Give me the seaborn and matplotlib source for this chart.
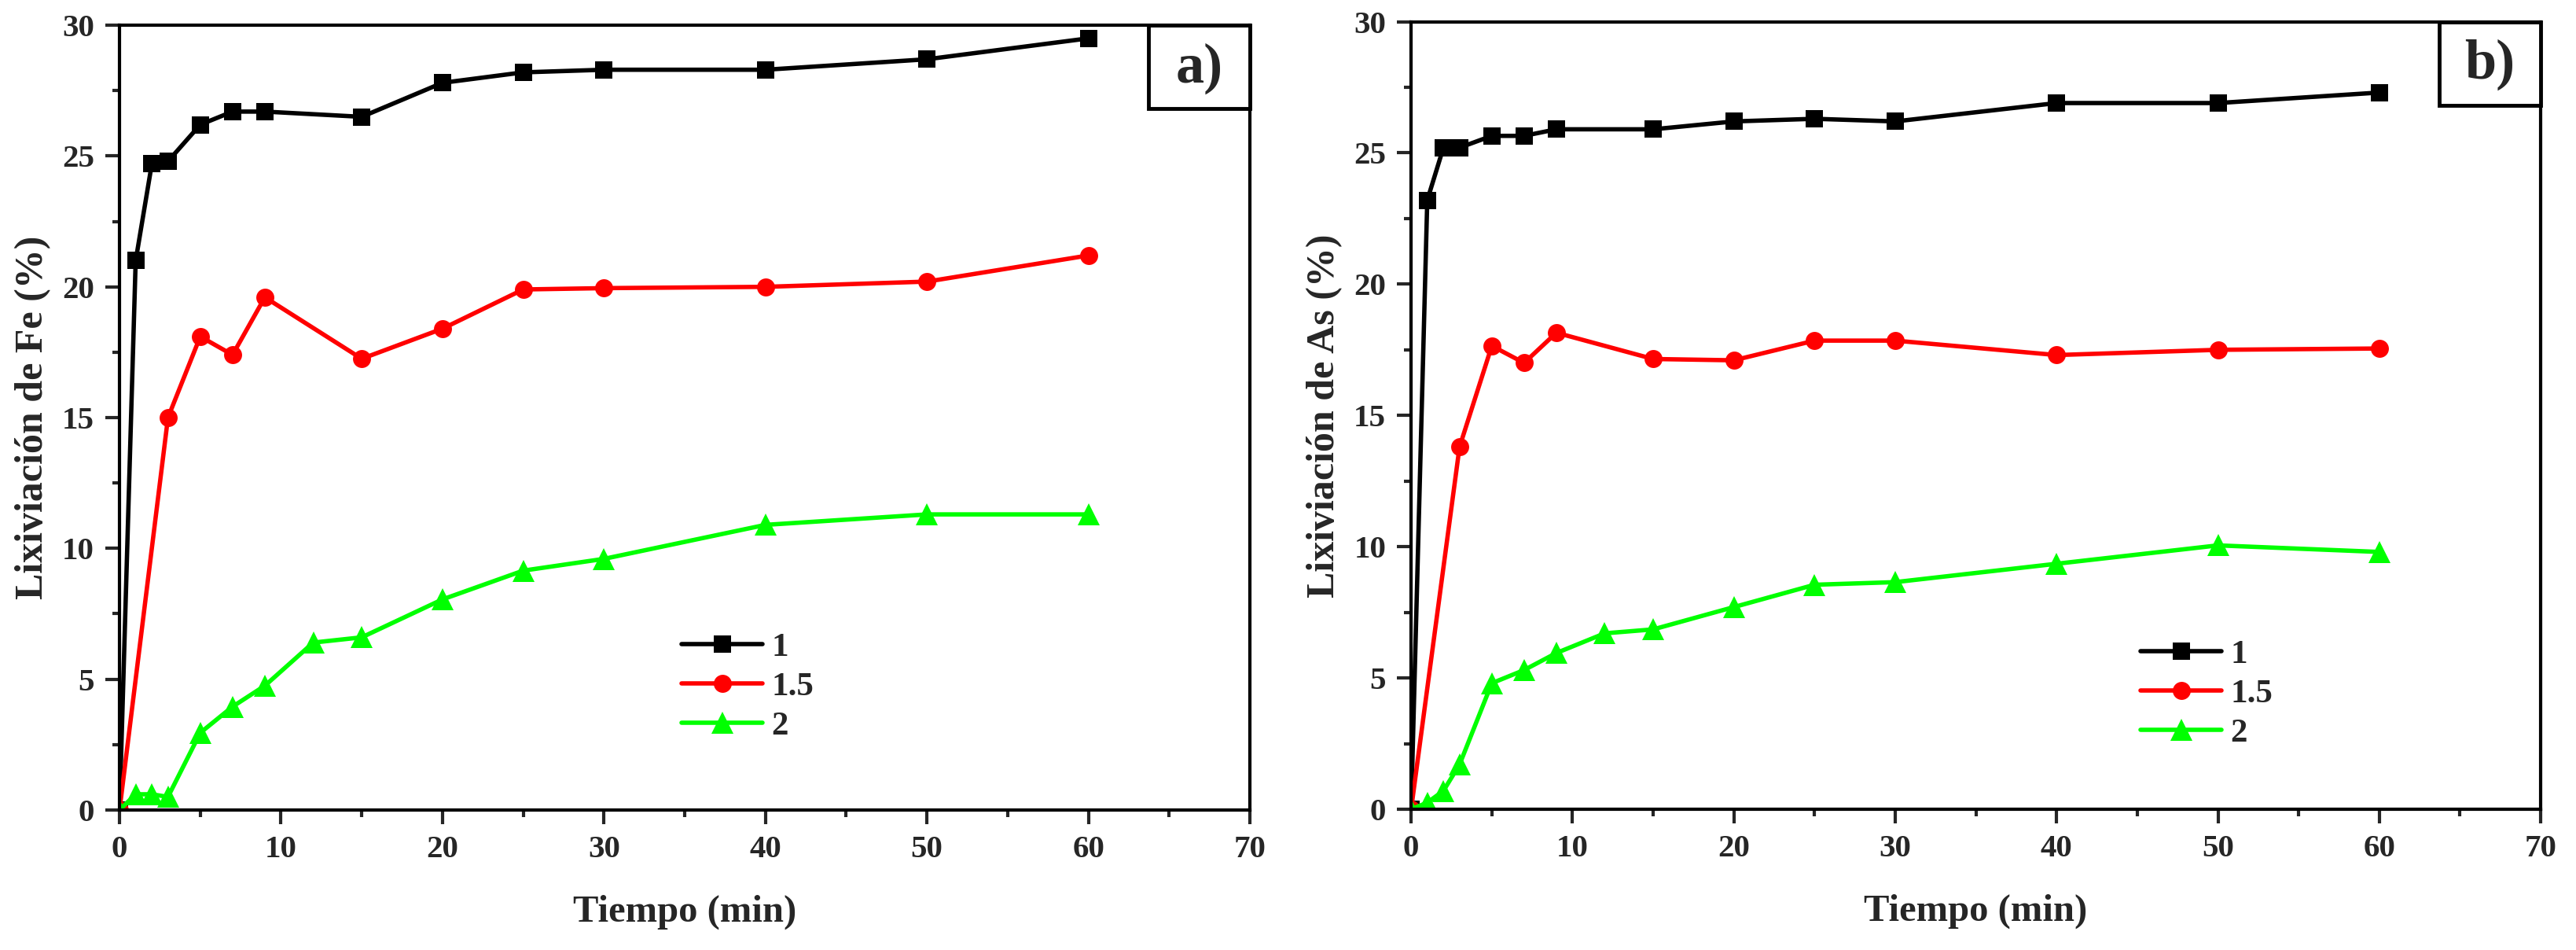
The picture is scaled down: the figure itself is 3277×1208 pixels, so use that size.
import matplotlib
matplotlib.use("Agg")
import matplotlib.pyplot as plt
from matplotlib.patches import Rectangle
from matplotlib.ticker import MultipleLocator
import seaborn as sns
import pandas as pd

# leaching time (min)
time_min = [0, 1, 2, 3, 5, 7, 9, 12, 15, 20, 25, 30, 40, 50, 60]
time_no12 = [0, 1, 2, 3, 5, 7, 9, 15, 20, 25, 30, 40, 50, 60]
time_red = [0, 3, 5, 7, 9, 15, 20, 25, 30, 40, 50, 60]

# a) Fe leaching (%)
fe_1 = [0, 21.0, 24.7, 24.8, 26.2, 26.7, 26.7, 26.5, 27.8, 28.2, 28.3, 28.3, 28.7, 29.5]
fe_15 = [0, 15.0, 18.1, 17.4, 19.6, 17.25, 18.4, 19.9, 19.95, 20.0, 20.2, 21.2]
fe_2 = [0, 0.6, 0.6, 0.5, 2.95, 3.95, 4.75, 6.4, 6.6, 8.05, 9.15, 9.6, 10.9, 11.3, 11.3]

# b) As leaching (%)
as_1 = [0, 23.2, 25.2, 25.2, 25.65, 25.65, 25.9, 25.9, 26.2, 26.3, 26.2, 26.9, 26.9, 27.3]
as_15 = [0, 13.8, 17.65, 17.0, 18.15, 17.15, 17.1, 17.85, 17.85, 17.3, 17.5, 17.55]
as_2 = [0, 0.25, 0.7, 1.7, 4.8, 5.3, 5.95, 6.7, 6.85, 7.7, 8.55, 8.65, 9.35, 10.05, 9.8]

series_names = ["1", "1.5", "2"]
colors = {"1": "#000000", "1.5": "#ff0000", "2": "#00ff00"}
markers = {"1": "s", "1.5": "o", "2": "^"}
msizes = {"1": 16, "1.5": 16.5, "2": 20}

sns.set_theme(style="ticks")
plt.rcParams["font.family"] = ["Liberation Serif", "DejaVu Serif"]
plt.rcParams["font.weight"] = "bold"
plt.rcParams["axes.labelweight"] = "bold"


def make_df(t1, y1, t15, y15, t2, y2):
    parts = []
    for name, t, y in zip(series_names, [t1, t15, t2], [y1, y15, y2]):
        parts.append(pd.DataFrame({"t": t, "y": y, "serie": name}))
    return pd.concat(parts, ignore_index=True)


df_fe = make_df(time_no12, fe_1, time_red, fe_15, time_min, fe_2)
df_as = make_df(time_no12, as_1, time_red, as_15, time_min, as_2)

fig = plt.figure(figsize=(32.77, 12.08), dpi=100)
ax_a = fig.add_axes([0.0464, 0.1474, 0.4388, 0.826])
ax_b = fig.add_axes([0.5478, 0.1482, 0.4385, 0.829])


def draw_panel(ax, df, ylabel, tag, leg_xy):
    for name in series_names:
        sub = df[df["serie"] == name]
        sns.lineplot(data=sub, x="t", y="y", ax=ax, color=colors[name],
                     marker=markers[name], markersize=msizes[name],
                     markeredgewidth=0, linewidth=4, label=name)
    ax.set_xlim(0, 70)
    ax.set_ylim(0, 30)
    ax.xaxis.set_major_locator(MultipleLocator(10))
    ax.xaxis.set_minor_locator(MultipleLocator(5))
    ax.yaxis.set_major_locator(MultipleLocator(5))
    ax.yaxis.set_minor_locator(MultipleLocator(2.5))
    ax.tick_params(which="major", direction="out", length=13, width=3,
                   labelsize=29.5, pad=10, top=False, right=False)
    ax.tick_params(which="minor", direction="out", length=6.5, width=3,
                   top=False, right=False)
    for lab in ax.get_xticklabels() + ax.get_yticklabels():
        lab.set_fontweight("bold")
    for sp in ax.spines.values():
        sp.set_linewidth(3)
        sp.set_color("black")
    ax.set_xlabel("Tiempo (min)", fontsize=35, fontweight="bold", labelpad=28)
    ax.set_ylabel(ylabel, fontsize=36, fontweight="bold", labelpad=10)

    ax.legend(loc="center left", bbox_to_anchor=leg_xy,
              bbox_transform=ax.transData, frameon=False, fontsize=31,
              handlelength=2.4, handletextpad=0.25, labelspacing=0.25,
              borderpad=0, borderaxespad=0)

    box = Rectangle((0.910, 0.894), 0.090, 0.106, transform=ax.transAxes,
                    facecolor="white", edgecolor="black", linewidth=3.5,
                    zorder=5, clip_on=False)
    ax.add_patch(box)
    ax.text(0.955, 0.945, tag, transform=ax.transAxes, ha="center",
            va="center", fontsize=52, fontweight="bold", zorder=6)


draw_panel(ax_a, df_fe, "Lixiviación de Fe (%)", "a)", (34.8, 4.7))
draw_panel(ax_b, df_as, "Lixiviación de As (%)", "b)", (45.2, 4.4))

fig.savefig("out.png", dpi=100, facecolor="white")
